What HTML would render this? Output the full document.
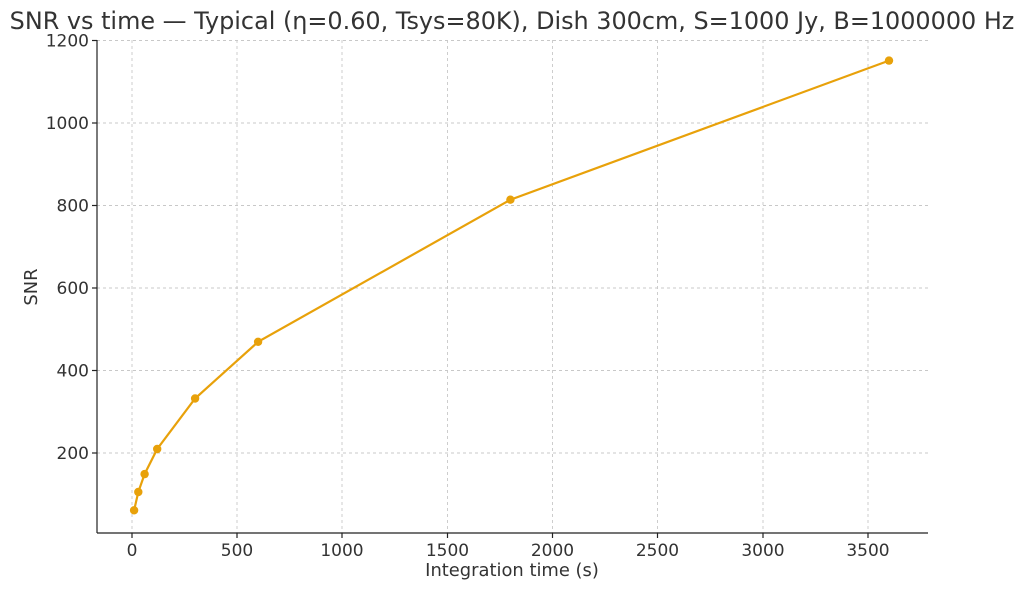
<!DOCTYPE html>
<html><head><meta charset="utf-8"><style>body{margin:0;background:#fff}svg{display:block}text{font-family:"DejaVu Sans","Liberation Sans",sans-serif;fill:#333}</style></head><body>
<svg width="1024" height="590" xmlns="http://www.w3.org/2000/svg">
<text x="512" y="29" font-size="23.9" text-anchor="middle">SNR vs time — Typical (η=0.60, Tsys=80K), Dish 300cm, S=1000 Jy, B=1000000 Hz</text>
<g stroke="#c8c8c8" stroke-dasharray="3,3" stroke-width="0.9">
<line x1="132" y1="40" x2="132" y2="533"/><line x1="237" y1="40" x2="237" y2="533"/><line x1="342" y1="40" x2="342" y2="533"/><line x1="447.5" y1="40" x2="447.5" y2="533"/><line x1="552.5" y1="40" x2="552.5" y2="533"/><line x1="657.5" y1="40" x2="657.5" y2="533"/><line x1="763" y1="40" x2="763" y2="533"/><line x1="868" y1="40" x2="868" y2="533"/>
<line x1="97" y1="453" x2="928" y2="453"/><line x1="97" y1="370.5" x2="928" y2="370.5"/><line x1="97" y1="288" x2="928" y2="288"/><line x1="97" y1="205.5" x2="928" y2="205.5"/><line x1="97" y1="123" x2="928" y2="123"/><line x1="97" y1="40.5" x2="928" y2="40.5"/>
</g>
<g stroke="#222" stroke-width="1.2"><line x1="97" y1="40" x2="97" y2="533"/><line x1="97" y1="533" x2="928" y2="533"/>
<line x1="132" y1="533" x2="132" y2="538"/><line x1="237" y1="533" x2="237" y2="538"/><line x1="342" y1="533" x2="342" y2="538"/><line x1="447.5" y1="533" x2="447.5" y2="538"/><line x1="552.5" y1="533" x2="552.5" y2="538"/><line x1="657.5" y1="533" x2="657.5" y2="538"/><line x1="763" y1="533" x2="763" y2="538"/><line x1="868" y1="533" x2="868" y2="538"/>
<line x1="92" y1="453" x2="97" y2="453"/><line x1="92" y1="370.5" x2="97" y2="370.5"/><line x1="92" y1="288" x2="97" y2="288"/><line x1="92" y1="205.5" x2="97" y2="205.5"/><line x1="92" y1="123" x2="97" y2="123"/><line x1="92" y1="40.5" x2="97" y2="40.5"/></g>
<g font-size="17" text-anchor="middle"><text x="132" y="556">0</text><text x="237" y="556">500</text><text x="342" y="556">1000</text><text x="447.5" y="556">1500</text><text x="552.5" y="556">2000</text><text x="657.5" y="556">2500</text><text x="763" y="556">3000</text><text x="868" y="556">3500</text></g>
<g font-size="17" text-anchor="end"><text x="89" y="459">200</text><text x="89" y="376.5">400</text><text x="89" y="294">600</text><text x="89" y="211.5">800</text><text x="89" y="129">1000</text><text x="89" y="46.5">1200</text></g>
<text x="512" y="576" font-size="17.9" text-anchor="middle">Integration time (s)</text>
<text transform="translate(37,287) rotate(-90)" font-size="17.9" text-anchor="middle">SNR</text>
<polyline fill="none" stroke="#e8a10a" stroke-width="2.2" points="134.1,510.3 138.3,492 144.6,474.1 157.2,449 195.1,398.5 258.1,341.8 510.4,199.7 889,60.6"/>
<g fill="#e8a10a"><circle cx="134.1" cy="510.3" r="4.2"/><circle cx="138.3" cy="492" r="4.2"/><circle cx="144.6" cy="474.1" r="4.2"/><circle cx="157.2" cy="449" r="4.2"/><circle cx="195.1" cy="398.5" r="4.2"/><circle cx="258.1" cy="341.8" r="4.2"/><circle cx="510.4" cy="199.7" r="4.2"/><circle cx="889" cy="60.6" r="4.2"/></g>
</svg></body></html>
